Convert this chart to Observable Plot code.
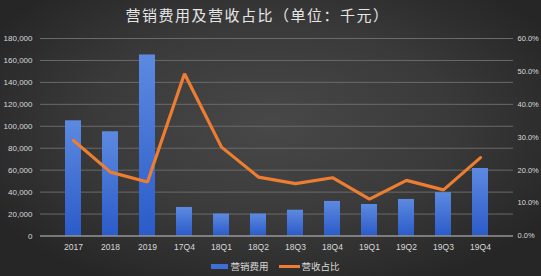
<!DOCTYPE html>
<html>
<head>
<meta charset="utf-8">
<script src="https://cdn.jsdelivr.net/npm/d3@7"></script>
<script src="https://cdn.jsdelivr.net/npm/@observablehq/plot@0.6"></script>
<style>
  html, body { margin: 0; padding: 0; }
  body {
    width: 541px; height: 276px; overflow: hidden;
    background: radial-gradient(ellipse 60% 65% at 50% 45%, #484848 0%, #3a3a3a 55%, #262626 100%);
    font-family: "Noto Sans CJK SC", "Noto Sans", sans-serif;
  }
  #title {
    height: 28px; line-height: 30px; text-align: center;
    color: #e6e6e6; font-size: 15px; letter-spacing: 1.5px;
    padding-right: 26px; box-sizing: border-box;
  }
  #chart svg { display: block; background: transparent; }
  #legend {
    height: 20px; display: flex; justify-content: center; align-items: center;
    font-size: 9.5px; color: #d9d9d9; gap: 10px; padding-left: 10px;
  }
  .item { display: flex; align-items: center; gap: 2px; }
  .sw-bar { width: 17px; height: 5px; background: #3f6fd6; }
  .sw-line { width: 21px; height: 3px; background: #ed7d31; }
</style>
</head>
<body>
<div id="title">营销费用及营收占比（单位：千元）</div>
<div id="chart"></div>
<div id="legend">
  <div class="item"><span class="sw-bar"></span><span>营销费用</span></div>
  <div class="item"><span class="sw-line"></span><span>营收占比</span></div>
</div>
<script>
const categories = ["2017","2018","2019","17Q4","18Q1","18Q2","18Q3","18Q4","19Q1","19Q2","19Q3","19Q4"];
const expense = [105000, 95000, 165000, 26000, 20000, 20000, 23500, 31500, 28700, 33300, 39500, 61500];
const ratio = [29.0, 19.4, 16.4, 49.3, 27.0, 17.9, 15.9, 17.7, 11.2, 16.9, 14.0, 23.8];
const leftTicks = [0, 20000, 40000, 60000, 80000, 100000, 120000, 140000, 160000, 180000];
const rightTicks = [0, 10, 20, 30, 40, 50, 60];

const yMax = 180000, pMax = 60;
const k = yMax / pMax;

const data = categories.map((c, i) => ({cat: c, exp: expense[i], pct: ratio[i]}));

const plot = Plot.plot({
  width: 541,
  height: 228,
  marginTop: 10,
  marginBottom: 20.5,
  marginLeft: 40,
  marginRight: 28,
  style: {background: "transparent", color: "#d9d9d9", fontSize: "8.5px", fontFamily: "'Liberation Sans', 'DejaVu Sans', sans-serif"},
  x: {domain: categories, padding: 0.58, label: null},
  y: {domain: [0, yMax], label: null},
  marks: [
    () => {
      const ns = "http://www.w3.org/2000/svg";
      const defs = document.createElementNS(ns, "defs");
      defs.innerHTML = `<linearGradient id="bargrad" x1="0" y1="0" x2="0" y2="1">
        <stop offset="0" stop-color="#5c8ae0"/><stop offset="1" stop-color="#2b5bc9"/></linearGradient>`;
      return defs;
    },
    Plot.gridY(leftTicks.filter(d => d > 0), {stroke: "#6a6a6a", strokeOpacity: 1, strokeWidth: 1}),
    Plot.barY(data, {x: "cat", y: "exp", fill: "url(#bargrad)"}),
    Plot.ruleY([0], {stroke: "#c8c8c8", strokeWidth: 1}),
    Plot.lineY(data, {x: "cat", y: d => d.pct * k, stroke: "#ed7d31", strokeWidth: 3.2, strokeLinejoin: "miter"}),
    Plot.axisY(leftTicks, {anchor: "left", tickSize: 0, tickPadding: 8, fontSize: 8, tickFormat: d3.format(","), fill: "#d9d9d9"}),
    Plot.axisY(rightTicks.map(d => d * k), {anchor: "right", tickSize: 0, tickPadding: 4, fontSize: 7.5, tickFormat: d => (d / k).toFixed(1) + "%", fill: "#d9d9d9"}),
    Plot.axisX({tickSize: 0, tickPadding: 8, fill: "#d9d9d9"})
  ]
});
document.getElementById("chart").appendChild(plot);
</script>
</body>
</html>
